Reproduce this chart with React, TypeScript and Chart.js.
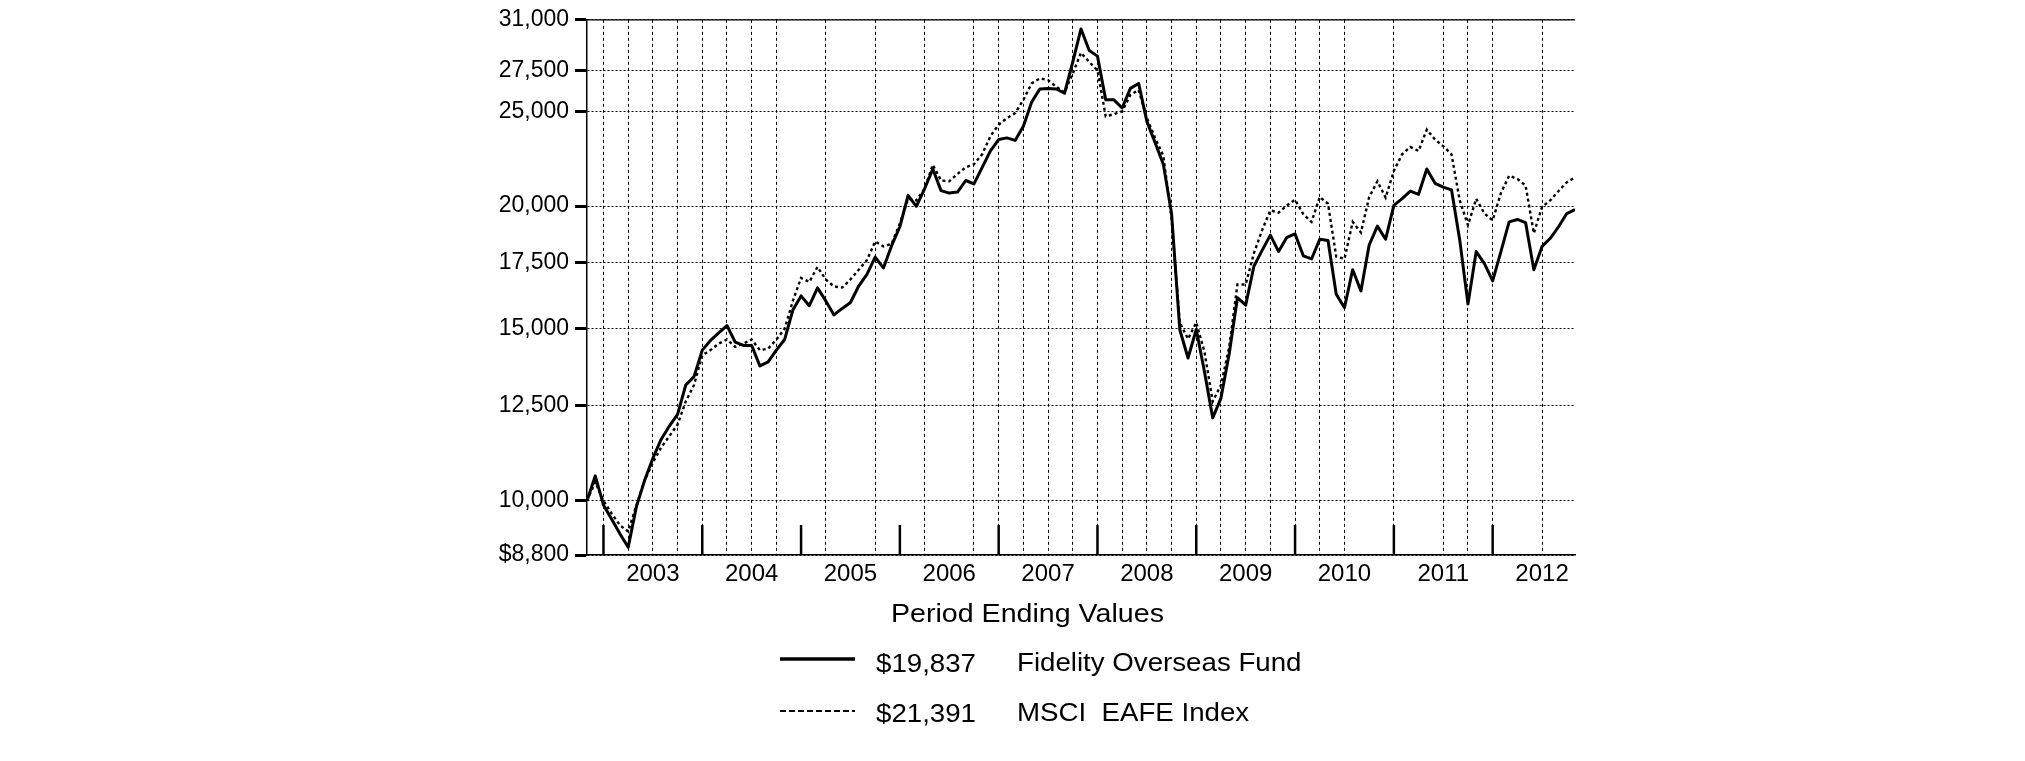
import React, { useEffect, useRef } from 'react';
import { Chart, registerables } from 'chart.js';

Chart.register(...registerables);

// Month index 0 = Oct 2002 ... 120 = Oct 2012
const fundValues: number[] = [
  10000, 10600, 9900, 9570, 9250, 8960, 9860, 10490, 11050, 11550,
  11920, 12250, 13130, 13390, 14250, 14580, 14840, 15100, 14520, 14410,
  14410, 13730, 13860, 14250, 14610, 15660, 16190, 15820, 16500, 16000,
  15480, 15720, 15940, 16570, 17030, 17740, 17290, 18220, 19050, 20510,
  19990, 20830, 21820, 20740, 20620, 20670, 21240, 21070, 21910, 22770,
  23390, 23480, 23340, 24130, 25540, 26340, 26380, 26340, 26080, 28070,
  30340, 28840, 28460, 25680, 25680, 25190, 26380, 26690, 24410, 23210,
  22070, 19650, 14950, 13990, 14960, 13540, 12150, 12730, 14130, 16120,
  15840, 17360, 18020, 18680, 17970, 18580, 18730, 17790, 17660, 18500,
  18440, 16250, 15750, 17220, 16380, 18250, 19080, 18500, 20030, 20350,
  20720, 20560, 21820, 21100, 20910, 20780, 18470, 15880, 17970, 17470,
  16770, 17970, 19270, 19380, 19240, 17220, 18190, 18540, 19050, 19650,
  19837,
];

const indexValues: number[] = [
  10000, 10450, 10000, 9700, 9440, 9300, 9890, 10490, 10940, 11330,
  11640, 11960, 12630, 13130, 14080, 14250, 14470, 14610, 14360, 14470,
  14610, 14250, 14300, 14610, 14980, 16000, 16890, 16730, 17330, 16830,
  16550, 16510, 16830, 17220, 17610, 18400, 18190, 18300, 19200, 20350,
  20270, 20830, 22040, 21240, 21200, 21570, 21910, 22070, 22590, 23580,
  24220, 24600, 24890, 25680, 26690, 27010, 26900, 26480, 26140, 27320,
  28690, 28070, 27530, 24700, 24830, 24990, 25980, 26280, 24600, 23480,
  22500, 19420, 15200, 14630, 15210, 14190, 12630, 13130, 14350, 16630,
  16630, 17900, 18900, 19800, 19690, 20030, 20300, 19620, 19270, 20430,
  20110, 17760, 17660, 19270, 18790, 20430, 21200, 20400, 21730, 22590,
  22980, 22770, 23940, 23390, 23030, 22590, 20270, 19120, 20350, 19650,
  19340, 20620, 21480, 21320, 20990, 18760, 19960, 20270, 20720, 21150,
  21391,
];

const yearLabels: string[] = ['2003', '2004', '2005', '2006', '2007', '2008', '2009', '2010', '2011', '2012'];
const yearLabelPos: number[] = [8, 20, 32, 44, 56, 68, 80, 92, 104, 116];
const yearBoundaries: number[] = [2, 14, 26, 38, 50, 62, 74, 86, 98, 110];
const gridMonths: number[] = [2, 5, 8, 11, 14, 17, 20, 23, 29, 35, 41, 47, 50, 53, 56, 59, 62, 65, 68, 71, 74, 77, 80, 83, 86, 89, 92, 98, 104, 107, 110, 116];
const yTicks: number[] = [8800, 10000, 12500, 15000, 17500, 20000, 25000, 27500, 31000];

const FONT_FAMILY = '"Liberation Sans", Arial, Helvetica, sans-serif';

const framePlugin = {
  id: 'frame',
  afterDraw(chart: any) {
    const { ctx, chartArea, scales } = chart;
    const { left, right, top, bottom } = chartArea;
    ctx.save();
    ctx.strokeStyle = '#000';
    ctx.lineWidth = 1.2;
    ctx.beginPath();
    ctx.moveTo(left, top);
    ctx.lineTo(right, top);
    ctx.stroke();
    ctx.lineWidth = 2.5;
    yearBoundaries.forEach((v) => {
      const x = scales.x.getPixelForValue(v);
      ctx.beginPath();
      ctx.moveTo(x, bottom - 30);
      ctx.lineTo(x, bottom);
      ctx.stroke();
    });
    ctx.restore();
  },
};

export default function App() {
  const ref = useRef<HTMLCanvasElement>(null);

  useEffect(() => {
    const canvas = ref.current;
    if (!canvas) return;
    const yFont = { family: FONT_FAMILY, size: 23 };
    const xFont = { family: FONT_FAMILY, size: 24 };
    const chart = new Chart(canvas, {
      type: 'line',
      data: {
        datasets: [
          {
            label: 'Fidelity Overseas Fund',
            data: fundValues.map((v, i) => ({ x: i, y: v })),
            borderColor: '#000',
            borderWidth: 3,
            pointRadius: 0,
            tension: 0,
            borderJoinStyle: 'round',
            xAxisID: 'x',
            yAxisID: 'y',
          },
          {
            label: 'MSCI EAFE Index',
            data: indexValues.map((v, i) => ({ x: i, y: v })),
            borderColor: '#000',
            borderWidth: 2.4,
            borderDash: [3, 3],
            pointRadius: 0,
            tension: 0,
            xAxisID: 'x',
            yAxisID: 'y',
          },
        ],
      },
      options: {
        responsive: false,
        maintainAspectRatio: false,
        animation: false,
        devicePixelRatio: 1,
        layout: { padding: { left: 0, top: 14, right: 450, bottom: 156 } },
        plugins: {
          legend: { display: false },
          tooltip: { enabled: false },
          title: { display: false },
        },
        scales: {
          x: {
            type: 'linear',
            position: 'bottom',
            min: 0,
            max: 120,
            weight: 1,
            afterBuildTicks: (s: any) => {
              s.ticks = yearLabelPos.map((v) => ({ value: v }));
            },
            afterFit: (s: any) => {
              s.height = 50;
            },
            ticks: {
              autoSkip: false,
              maxRotation: 0,
              minRotation: 0,
              padding: 5,
              font: xFont,
              color: '#000',
              callback: (v: any) => {
                const i = yearLabelPos.indexOf(Number(v));
                return i >= 0 ? yearLabels[i] : '';
              },
            },
            grid: { display: true, drawOnChartArea: false, drawTicks: false },
            border: { display: true, color: '#000', width: 1.5 },
          },
          xg: {
            type: 'linear',
            position: 'bottom',
            min: 0,
            max: 120,
            weight: 0,
            afterBuildTicks: (s: any) => {
              s.ticks = gridMonths.map((v) => ({ value: v }));
            },
            afterFit: (s: any) => {
              s.height = 0;
            },
            ticks: { display: false, autoSkip: false },
            grid: { display: true, drawOnChartArea: true, drawTicks: false, color: '#000', lineWidth: 1 },
            border: { display: false, dash: [3, 3] },
          },
          y: {
            type: 'logarithmic',
            position: 'left',
            min: 8800,
            max: 31000,
            afterBuildTicks: (s: any) => {
              s.ticks = yTicks.map((v) => ({ value: v }));
            },
            afterFit: (s: any) => {
              s.width = 587;
            },
            ticks: {
              autoSkip: false,
              padding: 6,
              font: yFont,
              color: '#000',
              callback: (v: any) => (Number(v) === 8800 ? '$' : '') + Number(v).toLocaleString('en-US'),
            },
            grid: {
              color: '#000',
              lineWidth: 1,
              drawTicks: true,
              tickLength: 12,
              tickWidth: 3,
              tickColor: '#000',
              tickBorderDash: [],
            },
            border: { display: true, color: '#000', width: 1.5, dash: [2, 2] },
          },
        },
      } as any,
      plugins: [framePlugin],
    });
    return () => chart.destroy();
  }, []);

  const textBase: React.CSSProperties = {
    position: 'absolute',
    fontFamily: FONT_FAMILY,
    color: '#000',
    whiteSpace: 'pre',
    margin: 0,
    transformOrigin: 'left center',
  };

  const legendText: React.CSSProperties = {
    ...textBase,
    fontSize: 25.5,
    lineHeight: '25.5px',
    transform: 'scaleX(1.085)',
  };

  return (
    <div style={{ position: 'absolute', left: 0, top: 0, width: 2025, height: 761, background: '#fff', overflow: 'hidden' }}>
      <canvas ref={ref} width={2025} height={761} style={{ position: 'absolute', left: 0, top: 0, width: 2025, height: 761, display: 'block' }} />
      <div style={{ ...textBase, left: 891, top: 600, fontSize: 26, lineHeight: '26px', transform: 'scaleX(1.1)' }}>Period Ending Values</div>
      <svg style={{ position: 'absolute', left: 780, top: 655 }} width={76} height={8}>
        <line x1={0} y1={4} x2={75} y2={4} stroke="#000" strokeWidth={3.5} />
      </svg>
      <div style={{ ...legendText, left: 876, top: 651 }}>$19,837</div>
      <div style={{ ...legendText, left: 1017, top: 650 }}>Fidelity Overseas Fund</div>
      <svg style={{ position: 'absolute', left: 780, top: 707 }} width={76} height={8}>
        <line x1={0} y1={4} x2={75} y2={4} stroke="#000" strokeWidth={2} strokeDasharray="6 3" />
      </svg>
      <div style={{ ...legendText, left: 876, top: 701 }}>$21,391</div>
      <div style={{ ...legendText, left: 1017, top: 700 }}>MSCI  EAFE Index</div>
    </div>
  );
}
